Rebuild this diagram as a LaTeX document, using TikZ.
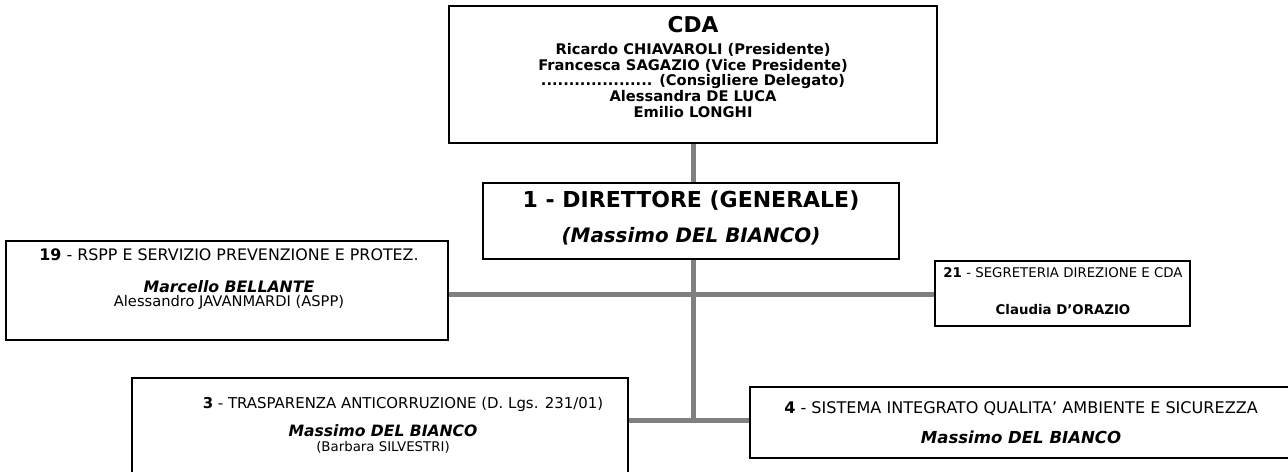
\documentclass[tikz,border=0pt]{standalone}
\usepackage{fontspec}
\setmainfont{DejaVu Sans}
\definecolor{linkgray}{RGB}{128,128,128}

\tikzset{every picture/.style={line width=0.75pt}}
\tikzset{
  unitbox/.style={draw, line width=1pt, fill=white, inner sep=0pt},
  unittext/.style={inner sep=0pt, align=center},
  orgline/.style={draw=linkgray, line width=3.75pt}
}
\newcommand{\fs}[1]{\fontsize{#1}{1.2\dimexpr #1pt\relax}\selectfont}

\begin{document}
\begin{tikzpicture}[x=0.75pt,y=0.75pt,yscale=-1,xscale=1]
\useasboundingbox (0,0) rectangle (1288,471);

%Shape: Rectangle [CDA]
\node [unitbox, line width=1.6pt, minimum width=366pt, minimum height=102.75pt] (cda) at (693,74.5) {};
%Shape: Rectangle [direttore]
\node [unitbox, minimum width=312pt, minimum height=57pt] (dir) at (691,221) {};
%Shape: Rectangle [19]
\node [unitbox, minimum width=331.5pt, minimum height=74.25pt] (u19) at (227,290.5) {};
%Shape: Rectangle [21]
\node [unitbox, minimum width=191.25pt, minimum height=48.75pt] (u21) at (1062.5,293.5) {};
%Shape: Rectangle [3]
\node [unitbox, minimum width=372pt, minimum height=71.25pt] (u3) at (380,425.5) {};
%Shape: Rectangle [4]
\node [unitbox, minimum width=405pt, minimum height=53.25pt] (u4) at (1020,422.5) {};

\coordinate (hmid) at (693,294);
\coordinate (junc) at (693,420);

%Lines
\draw [orgline] (cda.south) -- (cda.south |- dir.north);
\draw [orgline] (dir.south -| cda.south) -- (junc);
\draw [orgline] (u19.east |- hmid) -- (u21.west |- hmid);
\draw [orgline] (u3.east |- junc) -- (u4.west |- junc);

% Text Node
\node [unittext, font=\fontsize{11}{11.8}\selectfont\bfseries] (tcda) at (693,67)
  {{\fontsize{16.3}{18}\selectfont CDA}\\[4.7pt]
   Ricardo CHIAVAROLI (Presidente)\\
   Francesca SAGAZIO (Vice Presidente)\\
   .................... (Consigliere Delegato)\\
   Alessandra DE LUCA\\
   Emilio LONGHI};
% Text Node
\node [unittext, font=\fontsize{16}{26}\selectfont\bfseries] (tdir) at (691,218)
  {{\fs{16.5}1 - DIRETTORE (GENERALE)}\\
   {\fs{14.9}\itshape (Massimo DEL BIANCO)}};
% Text Node
\node [unittext, font=\fontsize{11.6}{10.5}\selectfont] (t19) at (229,279.5)
  {{\fs{11.9}\textbf{19} - RSPP E SERVIZIO PREVENZIONE E PROTEZ.}\\[13.5pt]
   {\fs{11.8}\bfseries\itshape Marcello BELLANTE}\\
   {\fs{11}Alessandro JAVANMARDI (ASPP)}};
% Text Node
\node [unittext, font=\fontsize{10}{28}\selectfont] (t21) at (1063,291)
  {\textbf{21} - SEGRETERIA DIREZIONE E CDA\\
   \textbf{Claudia D'ORAZIO}};
% Text Node
\node [unittext, font=\fs{11.2}] (t3a) at (403,404)
  {\textbf{3} - TRASPARENZA ANTICORRUZIONE (D. Lgs. 231/01)};
% Text Node
\node [unittext, font=\fontsize{10}{11.5}\selectfont] (t3b) at (383,439)
  {{\fs{11.7}\bfseries\itshape Massimo DEL BIANCO}\\
   (Barbara SILVESTRI)};
% Text Node
\node [unittext, font=\fontsize{12.4}{22}\selectfont] (t4) at (1021,422.5)
  {{\fs{12.05}\textbf{4} - SISTEMA INTEGRATO QUALITA' AMBIENTE E SICUREZZA}\\
   \textbf{\itshape Massimo DEL BIANCO}};
\end{tikzpicture}
\end{document}
